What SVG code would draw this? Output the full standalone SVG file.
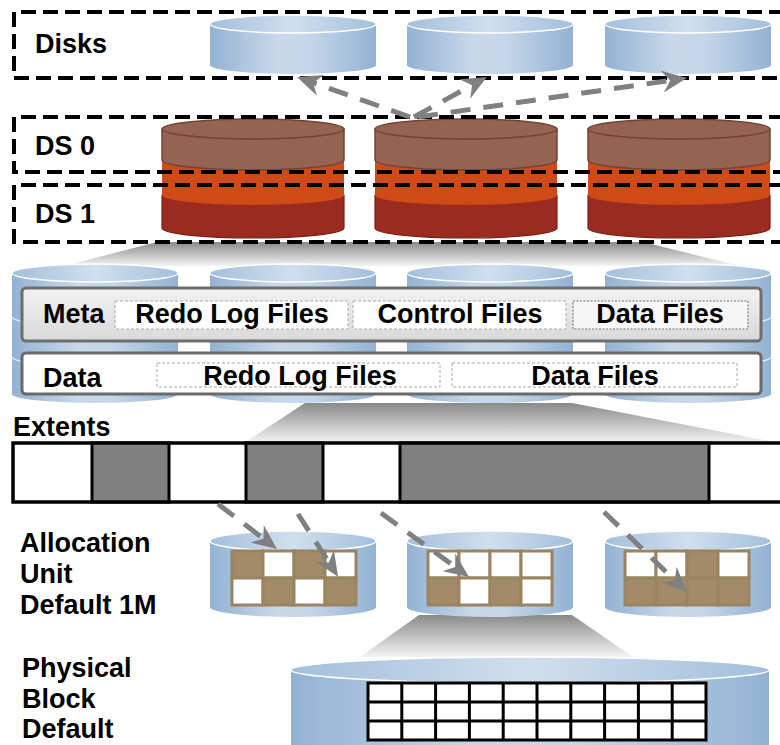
<svg xmlns="http://www.w3.org/2000/svg" width="780" height="745" viewBox="0 0 780 745">
  <defs>
    <style>
      .lbl { font-family: "Liberation Sans", Arial, sans-serif; font-weight: bold; font-size: 27px; fill: #000; }
      .mid { text-anchor: middle; }
      .tier { fill: none; stroke: #000; stroke-width: 4; stroke-dasharray: 15 7; }
      .cylBody { fill: url(#blueSide); }
      .cylTop { fill: url(#blueTop); stroke: #fff; stroke-width: 1.5; }
      .rim { fill: none; stroke: #e8f0f8; stroke-width: 1.5; }
      .funnel { fill: url(#funnelGrad); }
      .sub { fill: #fff; stroke: #a8a8a8; stroke-width: 1; stroke-dasharray: 3 2; }
      .flow { fill: none; stroke: #808080; stroke-width: 5; stroke-dasharray: 20 13; marker-end: url(#head); }
      .ext { stroke: #000; stroke-width: 3; }
      .au { stroke: #9a8461; stroke-width: 3; }
      .tan { fill: #a38b69; }
      .wht { fill: #fff; }
      .blk { fill: #fff; stroke: #000; stroke-width: 3; }
    </style>
    <linearGradient id="blueSide" x1="0" y1="0" x2="1" y2="0">
      <stop offset="0" stop-color="#93b2d2"/>
      <stop offset="0.4" stop-color="#c7d8ea"/>
      <stop offset="0.6" stop-color="#c4d6e9"/>
      <stop offset="1" stop-color="#93b2d2"/>
    </linearGradient>
    <linearGradient id="blueTop" x1="0" y1="0" x2="1" y2="0">
      <stop offset="0" stop-color="#a3bfdb"/>
      <stop offset="0.5" stop-color="#d0dfee"/>
      <stop offset="1" stop-color="#a3bfdb"/>
    </linearGradient>
    <linearGradient id="funnelGrad" x1="0" y1="0" x2="0" y2="1">
      <stop offset="0" stop-color="#8a8a8a"/>
      <stop offset="1" stop-color="#f4f4f4"/>
    </linearGradient>
    <linearGradient id="metaFill" x1="0" y1="0" x2="0" y2="1">
      <stop offset="0" stop-color="#f2f2f2"/>
      <stop offset="1" stop-color="#d9d9d9"/>
    </linearGradient>
    <marker id="head" viewBox="0 0 25 22" refX="16" refY="11" markerWidth="25" markerHeight="22" markerUnits="userSpaceOnUse" orient="auto">
      <path d="M0,0 L25,11 L0,22 L8,11 Z" fill="#808080"/>
    </marker>
  </defs>

  <rect width="780" height="745" fill="#fff"/>

  <!-- projection wedges between levels -->
  <g id="wedges">
    <polygon class="funnel" points="157,242 643,242 740,266 64,266"/>
    <polygon class="funnel" points="305,403 572,403 780,443 244,443"/>
    <polygon class="funnel" points="419,615 572,615 633,657 360,657"/>
  </g>

  <!-- Disks tier -->
  <g id="disks">
    <path class="cylBody" d="M210,24 V65 A83,9 0 0 0 376,65 V24 Z"/>
    <ellipse class="cylTop" cx="293" cy="24" rx="83" ry="9"/>
    <path class="cylBody" d="M407,24 V65 A83,9 0 0 0 573,65 V24 Z"/>
    <ellipse class="cylTop" cx="490" cy="24" rx="83" ry="9"/>
    <path class="cylBody" d="M605,24 V65 A83,9 0 0 0 771,65 V24 Z"/>
    <ellipse class="cylTop" cx="688" cy="24" rx="83" ry="9"/>
    <path class="tier" d="M784,12 H14 V78 H784"/>
    <text class="lbl" x="35" y="53">Disks</text>
  </g>

  <!-- disk sets, three layered stacks -->
  <g id="disk-sets">
    <g id="ds-stack-1">
      <path d="M162,195 V228 A91,10 0 0 0 344,228 V195 Z" fill="#9a2b1f" stroke="#7a1e14" stroke-width="1.2"/>
      <path d="M162,160 V195 A91,10 0 0 0 344,195 V160 Z" fill="#cf4a17"/>
      <path d="M162,129 V160 A91,10 0 0 0 344,160 V129 Z" fill="#966352" stroke="#6e4536" stroke-width="1.5"/>
      <ellipse cx="253" cy="129" rx="91" ry="10" fill="#966352" stroke="#6e4536" stroke-width="1.5"/>
    </g>
    <g id="ds-stack-2">
      <path d="M375,195 V228 A91,10 0 0 0 557,228 V195 Z" fill="#9a2b1f" stroke="#7a1e14" stroke-width="1.2"/>
      <path d="M375,160 V195 A91,10 0 0 0 557,195 V160 Z" fill="#cf4a17"/>
      <path d="M375,129 V160 A91,10 0 0 0 557,160 V129 Z" fill="#966352" stroke="#6e4536" stroke-width="1.5"/>
      <ellipse cx="466" cy="129" rx="91" ry="10" fill="#966352" stroke="#6e4536" stroke-width="1.5"/>
    </g>
    <g id="ds-stack-3">
      <path d="M588,195 V228 A91,10 0 0 0 770,228 V195 Z" fill="#9a2b1f" stroke="#7a1e14" stroke-width="1.2"/>
      <path d="M588,160 V195 A91,10 0 0 0 770,195 V160 Z" fill="#cf4a17"/>
      <path d="M588,129 V160 A91,10 0 0 0 770,160 V129 Z" fill="#966352" stroke="#6e4536" stroke-width="1.5"/>
      <ellipse cx="679" cy="129" rx="91" ry="10" fill="#966352" stroke="#6e4536" stroke-width="1.5"/>
    </g>
  </g>

  <g id="ds0">
    <path class="tier" d="M784,117 H14 V172 H784"/>
    <text class="lbl" x="35" y="155">DS 0</text>
  </g>
  <g id="ds1">
    <path class="tier" d="M784,185 H14 V242 H784"/>
    <text class="lbl" x="35" y="223">DS 1</text>
  </g>

  <!-- disk group holding metadata and data areas -->
  <g id="disk-group">
    <path class="cylBody" d="M12,273 V394 A83,9 0 0 0 178,394 V273 Z"/>
    <path class="rim" d="M12,317 A83,9 0 0 0 178,317 M12,357 A83,9 0 0 0 178,357"/>
    <ellipse class="cylTop" cx="95" cy="273" rx="83" ry="9"/>
    <path class="cylBody" d="M210,273 V394 A83,9 0 0 0 376,394 V273 Z"/>
    <path class="rim" d="M210,317 A83,9 0 0 0 376,317 M210,357 A83,9 0 0 0 376,357"/>
    <ellipse class="cylTop" cx="293" cy="273" rx="83" ry="9"/>
    <path class="cylBody" d="M407,273 V394 A83,9 0 0 0 573,394 V273 Z"/>
    <path class="rim" d="M407,317 A83,9 0 0 0 573,317 M407,357 A83,9 0 0 0 573,357"/>
    <ellipse class="cylTop" cx="490" cy="273" rx="83" ry="9"/>
    <path class="cylBody" d="M605,273 V394 A83,9 0 0 0 771,394 V273 Z"/>
    <path class="rim" d="M605,317 A83,9 0 0 0 771,317 M605,357 A83,9 0 0 0 771,357"/>
    <ellipse class="cylTop" cx="688" cy="273" rx="83" ry="9"/>
  </g>

  <g id="meta-area">
    <rect x="22" y="288" width="739" height="53" rx="4" fill="url(#metaFill)" stroke="#6e6e6e" stroke-width="3"/>
    <rect x="115" y="301" width="233" height="28" class="sub"/>
    <rect x="353" y="301" width="213" height="28" class="sub"/>
    <rect x="573" y="301" width="175" height="28" fill="#f7f7f7" stroke="#9a9a9a" stroke-width="1.6" stroke-dasharray="2 1.5"/>
    <text class="lbl" x="43" y="323">Meta</text>
    <text class="lbl mid" x="232" y="323">Redo Log Files</text>
    <text class="lbl mid" x="460" y="323">Control Files</text>
    <text class="lbl mid" x="660" y="323">Data Files</text>
  </g>

  <g id="data-area">
    <rect x="22" y="353" width="739" height="41" rx="4" fill="#fff" stroke="#6a6a6a" stroke-width="3"/>
    <rect x="157" y="363" width="283" height="24" class="sub"/>
    <rect x="452" y="363" width="285" height="24" class="sub"/>
    <text class="lbl" x="43" y="387">Data</text>
    <text class="lbl mid" x="300" y="385">Redo Log Files</text>
    <text class="lbl mid" x="595" y="385">Data Files</text>
  </g>

  <!-- extents strip -->
  <g id="extents">
    <text class="lbl" x="13" y="436">Extents</text>
    <rect x="13" y="443" width="780" height="59" fill="#fff" class="ext"/>
    <rect x="92" y="443" width="77" height="59" fill="#808080" class="ext"/>
    <rect x="246" y="443" width="77" height="59" fill="#808080" class="ext"/>
    <rect x="400" y="443" width="309" height="59" fill="#808080" class="ext"/>
    <rect x="13" y="443" width="780" height="59" fill="none" class="ext"/>
  </g>

  <!-- allocation units -->
  <g id="allocation-units">
    <text class="lbl" x="20" y="552">Allocation</text>
    <text class="lbl" x="20" y="583">Unit</text>
    <text class="lbl" x="20" y="614">Default 1M</text>
  </g>
  <g id="au-1">
    <path class="cylBody" d="M210,541 V607 A83,10 0 0 0 376,607 V541 Z"/>
    <ellipse class="cylTop" cx="293" cy="541" rx="83" ry="10"/>
    <g class="au">
      <rect x="232" y="551" width="31" height="27" class="tan"/>
      <rect x="263" y="551" width="31" height="27" class="wht"/>
      <rect x="294" y="551" width="31" height="27" class="tan"/>
      <rect x="325" y="551" width="31" height="27" class="wht"/>
      <rect x="232" y="578" width="31" height="27" class="wht"/>
      <rect x="263" y="578" width="31" height="27" class="tan"/>
      <rect x="294" y="578" width="31" height="27" class="wht"/>
      <rect x="325" y="578" width="31" height="27" class="tan"/>
    </g>
  </g>
  <g id="au-2">
    <path class="cylBody" d="M407,541 V607 A83,10 0 0 0 573,607 V541 Z"/>
    <ellipse class="cylTop" cx="490" cy="541" rx="83" ry="10"/>
    <g class="au">
      <rect x="428" y="551" width="31" height="27" class="wht"/>
      <rect x="459" y="551" width="31" height="27" class="wht"/>
      <rect x="490" y="551" width="31" height="27" class="wht"/>
      <rect x="521" y="551" width="31" height="27" class="wht"/>
      <rect x="428" y="578" width="31" height="27" class="tan"/>
      <rect x="459" y="578" width="31" height="27" class="wht"/>
      <rect x="490" y="578" width="31" height="27" class="tan"/>
      <rect x="521" y="578" width="31" height="27" class="wht"/>
    </g>
  </g>
  <g id="au-3">
    <path class="cylBody" d="M605,541 V607 A83,10 0 0 0 771,607 V541 Z"/>
    <ellipse class="cylTop" cx="688" cy="541" rx="83" ry="10"/>
    <g class="au">
      <rect x="625" y="551" width="31" height="27" class="wht"/>
      <rect x="656" y="551" width="31" height="27" class="wht"/>
      <rect x="687" y="551" width="31" height="27" class="tan"/>
      <rect x="718" y="551" width="31" height="27" class="wht"/>
      <rect x="625" y="578" width="31" height="27" class="tan"/>
      <rect x="656" y="578" width="31" height="27" class="tan"/>
      <rect x="687" y="578" width="31" height="27" class="tan"/>
      <rect x="718" y="578" width="31" height="27" class="tan"/>
    </g>
  </g>

  <!-- physical blocks -->
  <g id="physical-block">
    <text class="lbl" x="22" y="677">Physical</text>
    <text class="lbl" x="22" y="708">Block</text>
    <text class="lbl" x="22" y="738">Default</text>
    <path class="cylBody" d="M291,670 V770 A239,13 0 0 0 769,770 V670 Z"/>
    <ellipse class="cylTop" cx="530" cy="670" rx="239" ry="13"/>
    <g class="blk">
      <rect x="368" y="683" width="338" height="57"/>
      <path d="M368,702 H706 M368,721 H706 M401.8,683 V740 M435.6,683 V740 M469.4,683 V740 M503.2,683 V740 M537,683 V740 M570.8,683 V740 M604.6,683 V740 M638.4,683 V740 M672.2,683 V740"/>
    </g>
  </g>

  <!-- mapping arrows -->
  <g id="connectors">
    <path class="flow" d="M410,117 L305.5,80"/>
    <path class="flow" d="M414,117 L479,81.3"/>
    <path class="flow" d="M418,117 L678.1,79.3"/>
    <path class="flow" d="M218,504 L269.8,543.5"/>
    <path class="flow" d="M298,514 L333.2,569.2"/>
    <path class="flow" d="M381,513 L461.7,571.7"/>
    <path class="flow" d="M604,512 L680.5,585.8"/>
  </g>
</svg>
